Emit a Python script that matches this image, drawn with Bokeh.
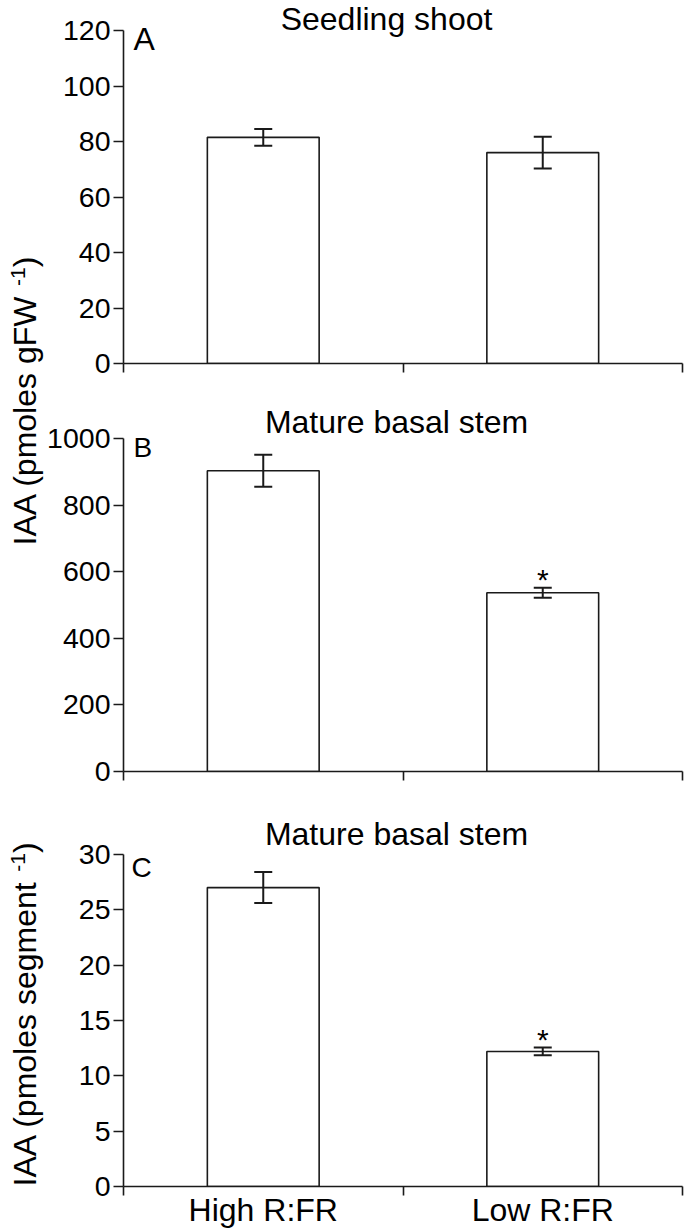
import math
from bokeh.plotting import figure
from bokeh.layouts import column, row
from bokeh.models import (Range1d, FixedTicker, Whisker, TeeHead,
                          ColumnDataSource, Label)
from bokeh.core.properties import value
from bokeh.embed import file_html
from bokeh.resources import INLINE

# ---------------- data ----------------
categories = ["High R:FR", "Low R:FR"]
panel_titles = ["Seedling shoot", "Mature basal stem", "Mature basal stem"]
panel_letters = ["A", "B", "C"]

seedling_iaa = [81.5, 76.0]          # pmoles gFW-1
seedling_err = [3.0, 5.7]
stem_iaa_fw = [903.0, 537.0]         # pmoles gFW-1
stem_iaa_fw_err = [48.0, 15.0]
stem_iaa_seg = [27.0, 12.2]          # pmoles segment-1
stem_iaa_seg_err = [1.4, 0.35]
significant_a = [False, False]
significant_b = [False, True]
significant_c = [False, True]

y_ticks_a = [0, 20, 40, 60, 80, 100, 120]
y_ticks_b = [0, 200, 400, 600, 800, 1000]
y_ticks_c = [0, 5, 10, 15, 20, 25, 30]

ylabel_ab = ["IAA (pmoles gFW", "-1", ")"]
ylabel_c = ["IAA (pmoles segment", "-1", ")"]

# ---------------- style / layout ----------------
FONT = "Liberation Sans"
INK = "#1a1a1a"
AXIS_PX = 333          # pixel length of every value axis
TICK_PX = 28.5
BASE_SHIFT = 0.35      # text anchor -> baseline correction (fraction of size)
TOTAL_H = 1230
STRIP_W = 44

ARIAL_W = {'I': .278, 'A': .667, ' ': .278, '(': .333, ')': .333, 'p': .556,
           'm': .833, 'o': .556, 'l': .222, 'e': .556, 's': .5, 'g': .556,
           'F': .611, 'W': .944, '-': .333, '1': .556, 'n': .556, 't': .278}


def text_w(s, size):
    return sum(ARIAL_W.get(c, .556) for c in s) * size


def add_text(p, frame_h, x, baseline_from_top, text, size, align="left"):
    """Label placed inside the frame; baseline given from the frame top."""
    p.add_layout(Label(x=x, y=frame_h - baseline_from_top + BASE_SHIFT * size,
                       x_units="screen", y_units="screen", text=text,
                       text_align=align, text_baseline="alphabetic",
                       text_font=FONT, text_font_size=f"{size}px",
                       text_color="black"))


def add_ylabel(p, parts, baseline_x, y_start, size=32, sup_size=21, sup_raise=11):
    main, sup, close = parts
    w_main = text_w(main, size)
    gap = text_w(" ", size)
    w_sup = text_w(sup, sup_size)
    common = dict(x_units="screen", y_units="screen", angle=math.pi / 2,
                  text_align="left", text_baseline="alphabetic",
                  text_font=FONT, text_color="black")
    p.add_layout(Label(x=baseline_x - BASE_SHIFT * size, y=y_start, text=main,
                       text_font_size=f"{size}px", **common))
    p.add_layout(Label(x=baseline_x - sup_raise - BASE_SHIFT * sup_size,
                       y=y_start + w_main + gap, text=sup,
                       text_font_size=f"{sup_size}px", **common))
    p.add_layout(Label(x=baseline_x - BASE_SHIFT * size,
                       y=y_start + w_main + gap + w_sup, text=close,
                       text_font_size=f"{size}px", **common))


def make_panel(vals, errs, ticks, stars, title, letter, *, height, frame_h,
               title_x, title_base, letter_size, letter_x, letter_base,
               show_categories=False):
    ymax = ticks[-1]
    p = figure(width=685 - STRIP_W, height=height,
               x_range=Range1d(0, len(categories)),
               y_range=Range1d(0, ymax * frame_h / AXIS_PX),
               output_backend="svg", toolbar_location=None, title=None,
               min_border_left=120 - STRIP_W, min_border_right=3,
               min_border_top=0, min_border_bottom=height - frame_h)
    p.outline_line_color = None
    p.grid.visible = False
    p.background_fill_color = "white"
    p.border_fill_color = "white"

    xs = [i + 0.5 for i in range(len(categories))]
    src = ColumnDataSource(dict(
        x=xs, top=vals,
        upper=[v + e for v, e in zip(vals, errs)],
        lower=[v - e for v, e in zip(vals, errs)]))

    p.vbar(x="x", top="top", bottom=0, width=0.4, source=src,
           fill_color="white", line_color=INK, line_width=1.6)
    w = Whisker(base="x", upper="upper", lower="lower", source=src,
                level="overlay", line_color=INK, line_width=2,
                upper_head=TeeHead(size=18, line_color=INK, line_width=2),
                lower_head=TeeHead(size=18, line_color=INK, line_width=2))
    p.add_layout(w)

    sx = [x for x, s in zip(xs, stars) if s]
    sy = [v + e for v, e, s in zip(vals, errs, stars) if s]
    if sx:
        p.text(x=sx, y=sy, text=["*"] * len(sx), text_align="center",
               text_baseline="alphabetic", y_offset=-8, text_color="black",
               text_font=value(FONT), text_font_size="30px")

    # x axis: short ticks at category boundaries
    xa = p.xaxis[0]
    if show_categories:
        xa.ticker = FixedTicker(ticks=xs, minor_ticks=list(range(len(categories) + 1)))
        xa.major_label_overrides = {x: c for x, c in zip(xs, categories)}
        xa.major_label_text_font = FONT
        xa.major_label_text_font_size = "32px"
        xa.major_label_text_color = "black"
        xa.major_label_standoff = -4
    else:
        xa.ticker = FixedTicker(ticks=[], minor_ticks=list(range(len(categories) + 1)))
    xa.major_tick_in = 0
    xa.major_tick_out = 0
    xa.minor_tick_in = 0
    xa.minor_tick_out = 9
    xa.axis_line_color = INK
    xa.minor_tick_line_color = INK
    xa.axis_line_width = 1.6
    xa.minor_tick_line_width = 1.6

    ya = p.yaxis[0]
    ya.ticker = FixedTicker(ticks=ticks)
    ya.bounds = (0, ymax)
    ya.major_tick_in = 0
    ya.major_tick_out = 10
    ya.minor_tick_out = 0
    ya.major_label_standoff = 3
    ya.major_label_text_font = FONT
    ya.major_label_text_font_size = f"{TICK_PX}px"
    ya.major_label_text_color = "black"
    ya.axis_line_color = INK
    ya.major_tick_line_color = INK
    ya.axis_line_width = 1.6
    ya.major_tick_line_width = 1.6

    add_text(p, frame_h, title_x, title_base, title, 32, align="center")
    add_text(p, frame_h, letter_x, letter_base, letter, letter_size)
    return p


# canvases: A 0..398, B 398..812, C 812..1230 (frame tops at canvas tops)
pa = make_panel(seedling_iaa, seedling_err, y_ticks_a, significant_a,
                panel_titles[0], panel_letters[0], height=398, frame_h=363,
                title_x=263, title_base=30, letter_size=32, letter_x=10,
                letter_base=50)
pb = make_panel(stem_iaa_fw, stem_iaa_fw_err, y_ticks_b, significant_b,
                panel_titles[1], panel_letters[1], height=414, frame_h=373,
                title_x=273, title_base=35, letter_size=28, letter_x=10,
                letter_base=59)
pc = make_panel(stem_iaa_seg, stem_iaa_seg_err, y_ticks_c, significant_c,
                panel_titles[2], panel_letters[2], height=418, frame_h=375,
                title_x=273, title_base=34, letter_size=28, letter_x=8,
                letter_base=66, show_categories=True)

# left strip carrying the rotated y-axis titles
strip = figure(width=STRIP_W, height=TOTAL_H, x_range=Range1d(0, 1),
               y_range=Range1d(0, 1), output_backend="svg",
               toolbar_location=None, title=None,
               x_axis_location=None, y_axis_location=None,
               min_border_left=0, min_border_right=0, min_border_top=0,
               min_border_bottom=0)
strip.outline_line_color = None
strip.grid.visible = False
strip.background_fill_color = "white"
strip.border_fill_color = "white"
add_ylabel(strip, ylabel_ab, baseline_x=36, y_start=TOTAL_H - 545)
add_ylabel(strip, ylabel_c, baseline_x=36, y_start=TOTAL_H - 1186)

layout = row(strip, column(pa, pb, pc, spacing=0), spacing=0)

open("out.html", "w").write(file_html(layout, INLINE))
